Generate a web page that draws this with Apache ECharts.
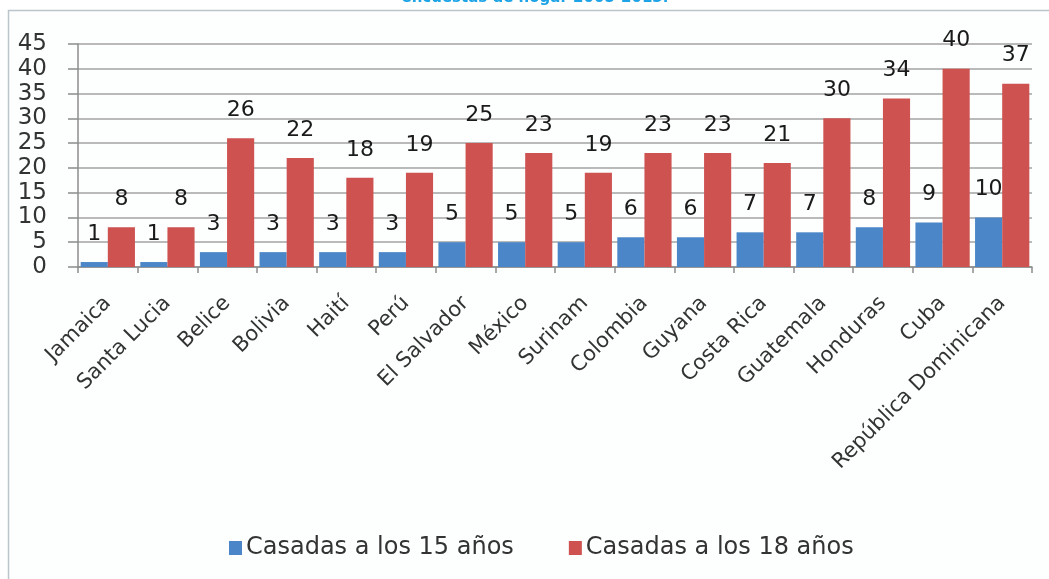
<!DOCTYPE html>
<html>
<head>
<meta charset="utf-8">
<script src="https://cdn.jsdelivr.net/npm/echarts@6/dist/echarts.min.js"></script>
<style>
html,body{margin:0;padding:0;background:#ffffff;}
#chart{width:1049px;height:579px;}
</style>
</head>
<body>
<div id="chart"></div>
<script>
var categories = ["Jamaica","Santa Lucia","Belice","Bolivia","Haití","Perú","El Salvador","México","Surinam","Colombia","Guyana","Costa Rica","Guatemala","Honduras","Cuba","República Dominicana"];
var casadas15 = [1,1,3,3,3,3,5,5,5,6,6,7,7,8,9,10];
var casadas18 = [8,8,26,22,18,19,25,23,19,23,23,21,30,34,40,37];
var seriesNames = ["Casadas a los 15 años","Casadas a los 18 años"];
var yTicks = {min:0, max:45, interval:5};
var topText = "encuestas de hogar 2005-2013.";

var FONT = "DejaVu Sans";
var chart = echarts.init(document.getElementById('chart'), null, {renderer:'canvas'});
var labelStyle = {show:true, position:'top', distance:17, fontFamily:FONT, fontSize:22, color:'#1a1a1a'};
chart.setOption({
  animation:false,
  backgroundColor:'#ffffff',
  graphic:[
    {type:'rect', z:-10, shape:{x:8.5, y:10.5, width:1100, height:600}, style:{fill:'#fdfefe', stroke:'#bcc5cc', lineWidth:1.5}},
    {type:'text', z:5, x:535, y:6, style:{text:topText, fill:'#1ea4e6', font:'bold 15px "DejaVu Sans"', align:'center', verticalAlign:'bottom'}}
  ],
  grid:{left:78, right:17, top:44, bottom:312, containLabel:false},
  legend:{
    data:seriesNames, left:224, top:531, itemGap:55, itemWidth:13, itemHeight:14,
    icon:'rect',
    textStyle:{fontFamily:FONT, fontSize:24, color:'#333333', padding:[0,0,0,-1]}
  },
  xAxis:{
    type:'category', data:categories,
    axisLine:{lineStyle:{color:'#8c8c8c', width:1.5}},
    axisTick:{show:true, alignWithLabel:false, length:6, lineStyle:{color:'#8c8c8c', width:1.5}},
    axisLabel:{rotate:45, interval:0, margin:33, fontFamily:FONT, fontSize:21, color:'#333333'}
  },
  yAxis:{
    type:'value', min:yTicks.min, max:yTicks.max, interval:yTicks.interval,
    axisLine:{show:true, lineStyle:{color:'#8c8c8c', width:1.5}},
    axisTick:{show:true, length:10, lineStyle:{color:'#8c8c8c', width:1.5}},
    splitLine:{lineStyle:{color:'#a3a3a3', width:1.5}},
    axisLabel:{margin:31, fontFamily:FONT, fontSize:23, color:'#333333'}
  },
  series:[
    {name:seriesNames[0], type:'bar', data:casadas15, barGap:'0%', barCategoryGap:'9%', itemStyle:{color:'#4a86c8'}, label:labelStyle},
    {name:seriesNames[1], type:'bar', data:casadas18, barGap:'0%', barCategoryGap:'9%', itemStyle:{color:'#cd5250'}, label:labelStyle}
  ]
});
</script>
</body>
</html>
